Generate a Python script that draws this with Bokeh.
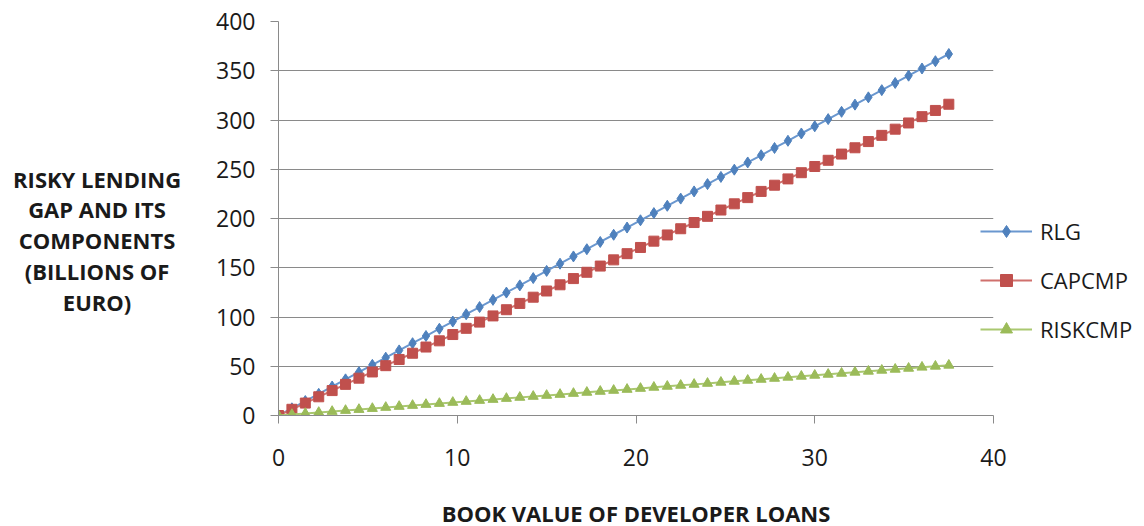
from bokeh.plotting import figure
from bokeh.models import Legend, LegendItem, Label, FixedTicker, Range1d
from bokeh.embed import file_html
from bokeh.resources import INLINE

loans = [0, 0.75, 1.5, 2.25, 3, 3.75, 4.5, 5.25, 6, 6.75, 7.5, 8.25, 9, 9.75, 10.5,
         11.25, 12, 12.75, 13.5, 14.25, 15, 15.75, 16.5, 17.25, 18, 18.75, 19.5,
         20.25, 21, 21.75, 22.5, 23.25, 24, 24.75, 25.5, 26.25, 27, 27.75, 28.5,
         29.25, 30, 30.75, 31.5, 32.25, 33, 33.75, 34.5, 35.25, 36, 36.75, 37.5]
rlg = [0, 7.3, 14.7, 22.0, 29.4, 36.7, 44.0, 51.4, 58.7, 66.1, 73.4, 80.7, 88.1,
       95.4, 102.8, 110.1, 117.4, 124.8, 132.1, 139.5, 146.8, 154.1, 161.5, 168.8,
       176.2, 183.5, 190.8, 198.2, 205.5, 212.9, 220.2, 227.5, 234.9, 242.2, 249.6,
       256.9, 264.2, 271.6, 278.9, 286.3, 293.6, 300.9, 308.3, 315.6, 323.0, 330.3,
       337.6, 345.0, 352.3, 359.7, 367.0]
capcmp = [0, 6.3, 12.6, 19.0, 25.3, 31.6, 37.9, 44.2, 50.6, 56.9, 63.2, 69.5, 75.8,
          82.2, 88.5, 94.8, 101.1, 107.4, 113.8, 120.1, 126.4, 132.7, 139.0, 145.4,
          151.7, 158.0, 164.3, 170.6, 177.0, 183.3, 189.6, 195.9, 202.2, 208.6, 214.9,
          221.2, 227.5, 233.8, 240.2, 246.5, 252.8, 259.1, 265.4, 271.8, 278.1, 284.4,
          290.7, 297.0, 303.4, 309.7, 316.0]
riskcmp = [0, 1.0, 2.0, 3.1, 4.1, 5.1, 6.1, 7.1, 8.2, 9.2, 10.2, 11.2, 12.2, 13.3,
           14.3, 15.3, 16.3, 17.3, 18.4, 19.4, 20.4, 21.4, 22.4, 23.5, 24.5, 25.5,
           26.5, 27.5, 28.6, 29.6, 30.6, 31.6, 32.6, 33.7, 34.7, 35.7, 36.7, 37.7,
           38.8, 39.8, 40.8, 41.8, 42.8, 43.9, 44.9, 45.9, 46.9, 47.9, 49.0, 50.0, 51.0]
series_names = ["RLG", "CAPCMP", "RISKCMP"]
x_ticks = [0, 10, 20, 30, 40]
y_ticks = [0, 50, 100, 150, 200, 250, 300, 350, 400]
x_title = "BOOK VALUE OF DEVELOPER LOANS"
y_title = "RISKY LENDING\nGAP AND ITS\nCOMPONENTS\n(BILLIONS OF\nEURO)"

FONT = "Open Sans"

p = figure(width=1136, height=526, output_backend="svg", toolbar_location=None,
           x_range=Range1d(0, 40), y_range=Range1d(0, 400),
           min_border_left=278, min_border_right=143, min_border_top=21,
           min_border_bottom=111)
p.frame_width = 715
p.frame_height = 394
p.outline_line_color = None
p.background_fill_color = "white"
p.border_fill_color = "white"

p.xgrid.grid_line_color = None
p.ygrid.grid_line_color = "#8a8a8a"
p.ygrid.grid_line_width = 1

for ax in (p.xaxis[0], p.yaxis[0]):
    ax.axis_line_color = "#8a8a8a"
    ax.major_tick_line_color = "#8a8a8a"
    ax.minor_tick_line_color = None
    ax.major_tick_in = 0
    ax.major_tick_out = 8
    ax.major_label_text_font = FONT
    ax.major_label_text_font_size = "23px"
    ax.major_label_text_color = "#1a1a1a"
p.xaxis.ticker = FixedTicker(ticks=x_ticks)
p.yaxis.ticker = FixedTicker(ticks=y_ticks)
p.xaxis.major_label_standoff = 25
p.yaxis.major_label_standoff = 15

p.xaxis.axis_label = x_title
p.xaxis.axis_label_text_font = FONT
p.xaxis.axis_label_text_font_style = "bold"
p.xaxis.axis_label_text_font_size = "22px"
p.xaxis.axis_label_text_color = "#1a1a1a"
p.xaxis.axis_label_standoff = 29

blue, red, green = "#4F81BD", "#C0504D", "#9BBB59"

r1l = p.line(loans, rlg, line_color="#6a97cf", line_width=2)
r1m = p.scatter(loans, rlg, marker="diamond", size=11, fill_color=blue, line_color=blue)
r2l = p.line(loans, capcmp, line_color="#d0706d", line_width=2)
r2m = p.scatter(loans, capcmp, marker="square", size=10, fill_color=red, line_color=red)
r3l = p.line(loans, riskcmp, line_color="#aac870", line_width=2)
r3m = p.scatter(loans, riskcmp, marker="triangle", size=10, fill_color=green, line_color=green)

legend = Legend(items=[LegendItem(label=series_names[0], renderers=[r1l, r1m]),
                       LegendItem(label=series_names[1], renderers=[r2l, r2m]),
                       LegendItem(label=series_names[2], renderers=[r3l, r3m])],
                location=(-13, 71), orientation="vertical",
                glyph_width=52, glyph_height=30, label_height=30, spacing=19,
                padding=0, margin=0, label_standoff=8,
                label_text_font=FONT, label_text_font_size="22px",
                label_text_color="#1a1a1a", border_line_color=None,
                background_fill_alpha=0)
p.add_layout(legend, "right")

p.add_layout(Label(x=-10.15, y=(415 - 163) / 0.985, text=y_title, text_align="center",
                   text_baseline="top", text_font=FONT, text_font_style="bold",
                   text_font_size="22px", text_color="#1a1a1a", text_line_height=1.03),
             "left")

open("out.html", "w").write(file_html(p, INLINE))
